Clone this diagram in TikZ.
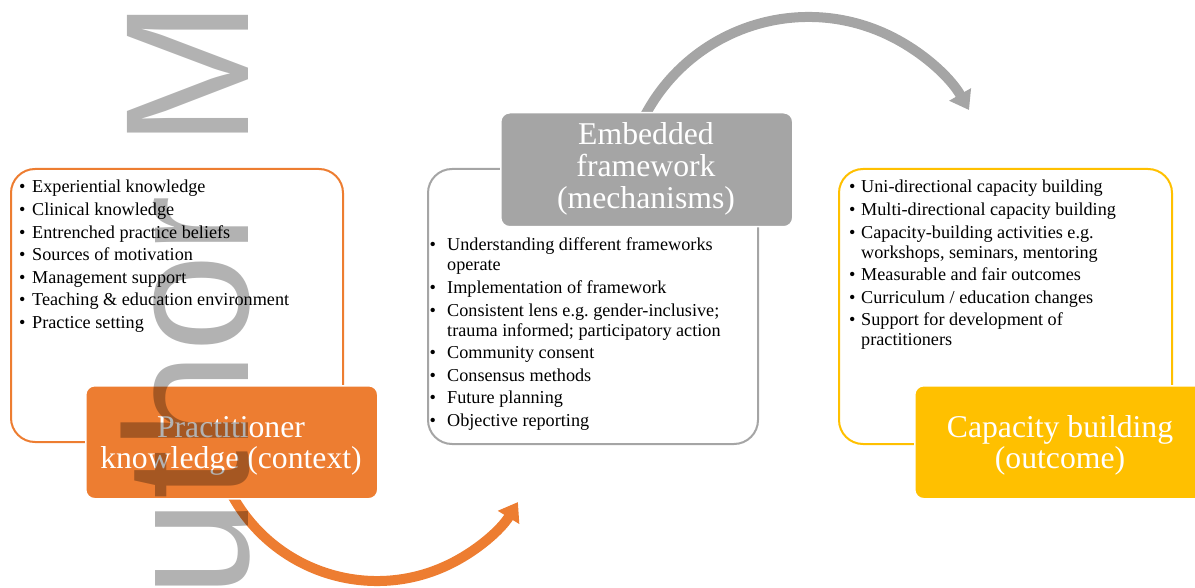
\documentclass[tikz,border=0pt]{standalone}
\usepackage{fontspec}
\setmainfont{Liberation Serif}
\newfontfamily\wmfont{Liberation Sans}
\usetikzlibrary{arrows.meta}
\definecolor{corange}{HTML}{ED7D31}
\definecolor{cgray}{HTML}{A5A5A5}
\definecolor{cyellow}{HTML}{FFC000}
\newcommand{\bul}[2]{\makebox[#1][l]{\textbullet}#2}
\frenchspacing
\begin{document}
\begin{tikzpicture}[x=1pt,y=-1pt,
  outline/.style={draw=#1, line width=2pt, rounded corners=24pt, fill=white, inner sep=0pt, anchor=north west},
  titlebox/.style={fill=#1, draw=white, line width=1.5pt, rounded corners=9pt, inner sep=0pt, anchor=north west, minimum width=292pt, minimum height=113pt},
  listtext/.style={anchor=base west, inner sep=0pt, font=\fontsize{18.2}{20}\selectfont},
  titletext/.style={anchor=base, inner sep=0pt, text=white, font=\fontsize{31.7}{31.5}\selectfont},
  arcarrow/.style={draw=#1, line width=10pt, -{Triangle[length=18pt,width=24pt]}},
]
\useasboundingbox (0,0) rectangle (1195,588);
\clip (0,0) rectangle (1195,588);

% arc arrows (drawn under the title boxes)
\coordinate (oc) at (377,415.7);
\coordinate (gc) at (808.5,202);
\draw[arcarrow=corange] (oc) ++(155:165.3) arc[start angle=155, end angle=31.5, radius=165.3];
\draw[arcarrow=cgray] (gc) ++(205:185) arc[start angle=205, end angle=330.2, radius=185];

% outline boxes
\node[outline=corange, minimum width=332pt, minimum height=273pt] (ob) at (10,168) {};
\node[outline=cgray, minimum width=330pt, minimum height=275pt] (gb) at (427,168) {};
\node[outline=cyellow, minimum width=333pt, minimum height=275pt] (yb) at (838,168) {};

% title boxes
\node[titlebox=corange] (ot) at (85,385) {};
\node[titlebox=cgray, minimum height=114pt] (gt) at (500,112) {};
\node[titlebox=cyellow] (yt) at (914,385) {};

% list texts
\node[listtext] (olist) at (19,193) {\begin{tabular}[t]{@{}l@{}}
\bul{13pt}{Experiential knowledge}\\[2.6pt]
\bul{13pt}{Clinical knowledge}\\[2.6pt]
\bul{13pt}{Entrenched practice beliefs}\\[2.6pt]
\bul{13pt}{Sources of motivation}\\[2.6pt]
\bul{13pt}{Management support}\\[2.6pt]
\bul{13pt}{Teaching \& education environment}\\[2.6pt]
\bul{13pt}{Practice setting}
\end{tabular}};

\node[listtext] (glist) at (429.5,251) {\begin{tabular}[t]{@{}l@{}}
\bul{17.5pt}{Understanding different frameworks}\\
\hspace*{17.5pt}operate\\[2.6pt]
\bul{17.5pt}{Implementation of framework}\\[2.6pt]
\bul{17.5pt}{Consistent lens e.g. gender-inclusive;}\\
\hspace*{17.5pt}trauma informed; participatory action\\[2.6pt]
\bul{17.5pt}{Community consent}\\[2.6pt]
\bul{17.5pt}{Consensus methods}\\[2.6pt]
\bul{17.5pt}{Future planning}\\[2.6pt]
\bul{17.5pt}{Objective reporting}
\end{tabular}};

\node[listtext] (ylist) at (849,193) {\begin{tabular}[t]{@{}l@{}}
\bul{12pt}{Uni-directional capacity building}\\[2.6pt]
\bul{12pt}{Multi-directional capacity building}\\[2.6pt]
\bul{12pt}{Capacity-building activities e.g.}\\
\hspace*{12pt}workshops, seminars, mentoring\\[2.6pt]
\bul{12pt}{Measurable and fair outcomes}\\[2.6pt]
\bul{12pt}{Curriculum / education changes}\\[2.6pt]
\bul{12pt}{Support for development of}\\
\hspace*{12pt}practitioners
\end{tabular}};

% title texts
\node[titletext] (otx) at (231,437) {\begin{tabular}[t]{@{}c@{}}Practitioner\\ knowledge (context)\end{tabular}};
\node[titletext] (gtx) at (646,145) {\begin{tabular}[t]{@{}c@{}}Embedded\\ framework\\ (mechanisms)\end{tabular}};
\node[titletext] (ytx) at (1060,437) {\begin{tabular}[t]{@{}c@{}}Capacity building\\ (outcome)\end{tabular}};

% watermark
\node[anchor=base west, inner sep=0pt, rotate=90, text=black, text opacity=0.3,
      font=\wmfont\fontsize{176}{176}\selectfont] (wm) at (248,715) {Author Manuscript};
\end{tikzpicture}
\end{document}
